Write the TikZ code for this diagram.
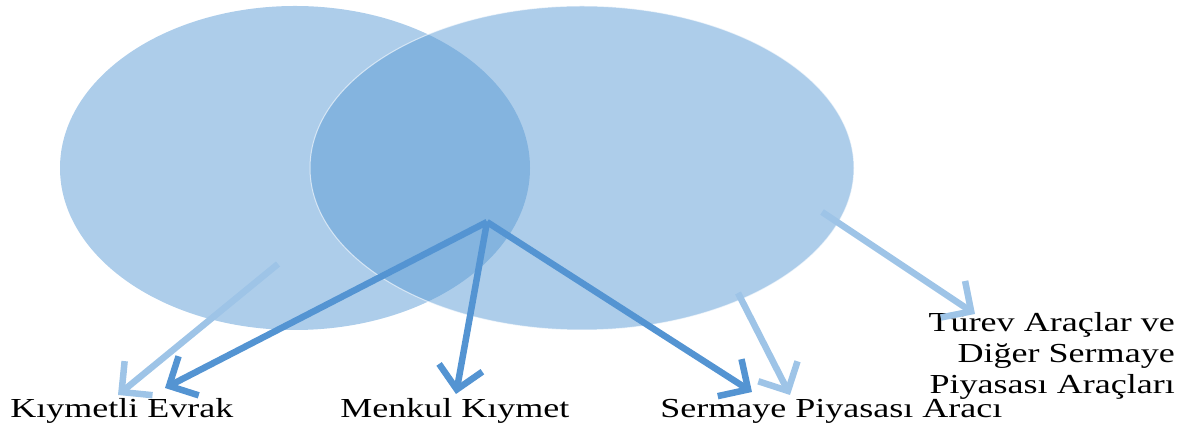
\documentclass[tikz,border=0pt]{standalone}
\usepackage{fontspec}
\setmainfont{Liberation Serif}
\usetikzlibrary{arrows.meta}
\definecolor{vennblue}{RGB}{91,155,213}
\definecolor{darkarrow}{RGB}{84,148,210}
\definecolor{lightarrow}{RGB}{158,196,231}
\tikzset{
  venn/.style={fill=vennblue, fill opacity=0.5},
  arr/.style={line width=6.5pt, -{Straight Barb[length=22pt,width=44pt,line width=6.5pt]}},
  darr/.style={arr, draw=darkarrow},
  larr/.style={arr, draw=lightarrow},
  lbl/.style={font=\fontsize{27.5}{31}\selectfont, inner sep=0pt, xscale=1.31}
}
\begin{document}
\begin{tikzpicture}[x=1pt,y=1pt]
\useasboundingbox (0,0) rectangle (1192,430);
% circles
\fill[venn] (295,262) ellipse [x radius=235, y radius=162];
\path[venn, draw=white, draw opacity=0.6, line width=1pt] (582,262) ellipse [x radius=272, y radius=162];
% labels
\node[lbl, anchor=base west] (ke) at (10,12) {Kıymetli Evrak};
\node[lbl, anchor=base west] (mk) at (340,12) {Menkul Kıymet};
\node[lbl, anchor=base west] (sp) at (660,12) {Sermaye Piyasası Aracı};
\node[lbl, anchor=south east, align=right] (tv) at (1175,30) {Türev Araçlar ve\\Diğer Sermaye\\Piyasası Araçları};
% arrow points
\coordinate (o) at (487,208);
\coordinate (ked) at (165,42);
\coordinate (mkd) at (456,36);
\coordinate (spd) at (752,38);
\coordinate (lsa) at (278,166);
\coordinate (lse) at (118,35);
\coordinate (rsa) at (738,137);
\coordinate (rse) at (790,35);
\coordinate (tva) at (822,218);
\coordinate (tve) at (975,116);
% light arrows
\draw[larr] (lsa) -- (lse);
\draw[larr] (rsa) -- (rse);
\draw[larr] (tva) -- (tve);
% dark arrows
\draw[darr] (o) -- (ked);
\draw[darr] (o) -- (mkd);
\draw[darr] (o) -- (spd);
\end{tikzpicture}
\end{document}
